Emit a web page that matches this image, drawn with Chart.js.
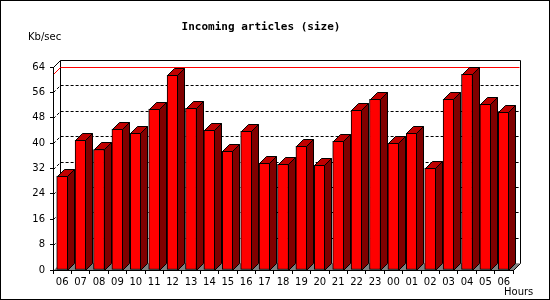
<!DOCTYPE html>
<html>
<head>
<meta charset="utf-8">
<script src="https://cdn.jsdelivr.net/npm/chart.js@4.4.0/dist/chart.umd.min.js"></script>
<style>
  html, body { margin: 0; padding: 0; background: #fff; }
  canvas { display: block; }
</style>
</head>
<body>
<canvas id="sizeChart" width="550" height="300"></canvas>
<script>
// heures (de 06 à 06) et débit entrant en Kb/sec
const hours = ['06','07','08','09','10','11','12','13','14','15','16','17','18',
               '19','20','21','22','23','00','01','02','03','04','05','06'];
const kbPerSec = [29.6, 40.9, 38.0, 44.4, 43.1, 50.7, 61.4, 51.0, 44.0, 37.4, 43.7, 33.6, 33.3,
                  39.0, 33.0, 40.6, 50.3, 53.8, 39.9, 43.1, 32.1, 53.8, 61.7, 52.2, 49.7];
const yTicks = [0, 8, 16, 24, 32, 40, 48, 56, 64];

const DEPTH = 7;
const FONT = '"DejaVu Sans", sans-serif';

// fond, cadre, murs du fond, sol et lignes pointillées
const backdrop = {
  id: 'backdrop',
  beforeDraw(chart) {
    const { ctx, chartArea: a, scales: { y } } = chart;
    const d = DEPTH;
    ctx.save();
    ctx.fillStyle = '#fff';
    ctx.fillRect(0, 0, chart.width, chart.height);
    ctx.strokeStyle = '#000';
    ctx.lineWidth = 1;
    ctx.strokeRect(0.5, 0.5, chart.width - 1, chart.height - 1);

    const L = a.left + 0.5, R = a.right + 0.5, T = a.top + 0.5, B = a.bottom + 0.5;

    // sol gris
    ctx.fillStyle = '#808080';
    ctx.beginPath();
    ctx.moveTo(L, B); ctx.lineTo(R, B); ctx.lineTo(R + d, B - d); ctx.lineTo(L + d, B - d);
    ctx.closePath();
    ctx.fill();

    // mur du fond
    ctx.strokeStyle = '#000';
    ctx.beginPath();
    ctx.moveTo(L, T); ctx.lineTo(L + d, T - d); ctx.lineTo(R + d, T - d);
    ctx.lineTo(R + d, B - d); ctx.lineTo(R, B);
    ctx.moveTo(L + d, T - d); ctx.lineTo(L + d, B - d);
    ctx.stroke();
    ctx.strokeStyle = '#a0a0a0';
    ctx.beginPath();
    ctx.moveTo(L + d, B - d); ctx.lineTo(R + d - 1, B - d);
    ctx.stroke();

    // pointillés
    ctx.strokeStyle = '#000';
    ctx.setLineDash([3, 2]);
    yTicks.slice(1, -1).forEach(v => {
      const py = Math.round(y.getPixelForValue(v)) + 0.5;
      ctx.beginPath();
      ctx.moveTo(L, py); ctx.lineTo(L + d, py - d); ctx.lineTo(R + d, py - d);
      ctx.stroke();
    });
    ctx.setLineDash([]);

    // ligne du maximum
    const pm = Math.round(y.getPixelForValue(Math.max(...kbPerSec))) + 0.5;
    ctx.strokeStyle = '#ff0000';
    ctx.beginPath();
    ctx.moveTo(L, pm); ctx.lineTo(L + d, pm - d); ctx.lineTo(R + d - 1, pm - d);
    ctx.stroke();

    // textes
    ctx.fillStyle = '#000';
    ctx.textBaseline = 'middle';
    ctx.textAlign = 'center';
    ctx.font = 'bold 11px "DejaVu Sans Mono", monospace';
    ctx.fillText('Incoming articles (size)', 261, 27);
    ctx.textAlign = 'left';
    ctx.font = '10px ' + FONT;
    ctx.fillText('Kb/sec', 28, 37);
    ctx.fillText('Hours', 504, 292);
    ctx.restore();
  }
};

// côtés et dessus des barres en 3D
const bars3d = {
  id: 'bars3d',
  afterDatasetsDraw(chart) {
    const { ctx } = chart;
    const d = DEPTH;
    ctx.save();
    ctx.strokeStyle = '#000';
    ctx.lineWidth = 1;
    chart.getDatasetMeta(0).data.forEach(bar => {
      const l = Math.round(bar.x - bar.width / 2) + 0.5;
      const r = Math.round(bar.x + bar.width / 2) - 0.5;
      const t = Math.round(bar.y) + 0.5;
      const b = Math.round(bar.base) + 0.5;
      ctx.fillStyle = '#800000';
      ctx.beginPath();
      ctx.moveTo(r, t); ctx.lineTo(r + d, t - d); ctx.lineTo(r + d, b - d); ctx.lineTo(r, b);
      ctx.closePath();
      ctx.fill(); ctx.stroke();
      ctx.fillStyle = '#c00000';
      ctx.beginPath();
      ctx.moveTo(l, t); ctx.lineTo(l + d, t - d); ctx.lineTo(r + d, t - d); ctx.lineTo(r, t);
      ctx.closePath();
      ctx.fill(); ctx.stroke();
    });
    ctx.restore();
  }
};

new Chart(document.getElementById('sizeChart'), {
  type: 'bar',
  data: {
    labels: hours,
    datasets: [{
      data: kbPerSec,
      backgroundColor: '#ff0000',
      borderColor: '#000',
      borderWidth: 1,
      borderSkipped: false,
      barThickness: 11
    }]
  },
  options: {
    responsive: false,
    animation: false,
    devicePixelRatio: 1,
    layout: { padding: { top: 67, right: 37, left: 0, bottom: 0 } },
    plugins: { legend: { display: false }, title: { display: false }, tooltip: { enabled: false } },
    scales: {
      x: {
        afterFit(s) { s.height = 30; },
        grid: { drawOnChartArea: false, drawTicks: true, tickLength: 4, color: '#000', offset: true },
        border: { color: '#000' },
        ticks: { color: '#000', font: { family: FONT, size: 10 }, padding: 2, maxRotation: 0, autoSkip: false }
      },
      y: {
        min: 0, max: 64,
        afterFit(s) { s.width = 53; },
        afterBuildTicks(s) { s.ticks = yTicks.map(v => ({ value: v })); },
        grid: { drawOnChartArea: false, drawTicks: true, tickLength: 3, color: '#000' },
        border: { color: '#000' },
        ticks: { color: '#000', font: { family: FONT, size: 10 }, padding: 5 }
      }
    }
  },
  plugins: [backdrop, bars3d]
});
</script>
</body>
</html>
